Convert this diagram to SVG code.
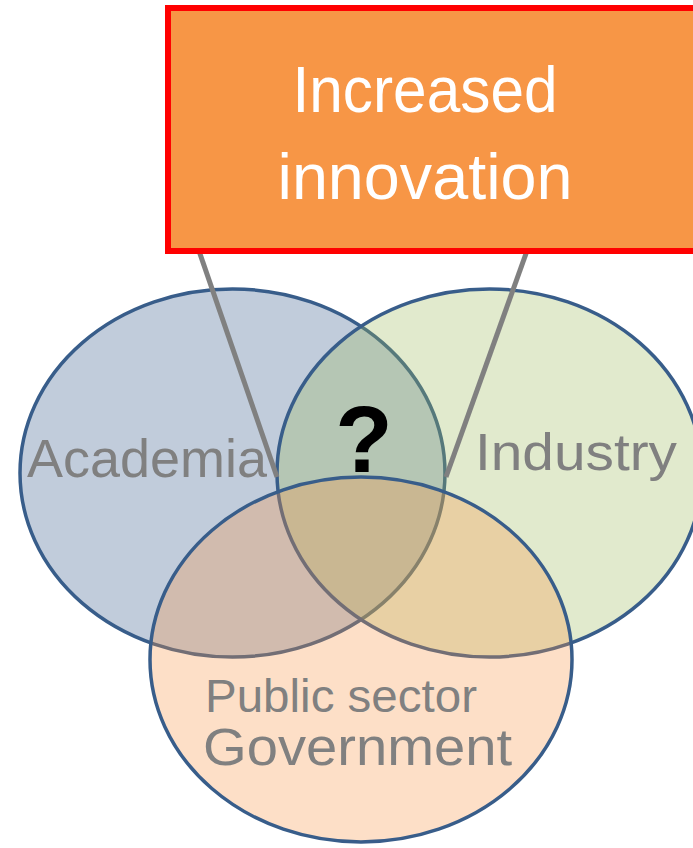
<svg xmlns="http://www.w3.org/2000/svg" width="693" height="848" viewBox="0 0 693 848">
<style>
.set{stroke:#385D8A;stroke-width:3.5}
.lbl{font-family:"Liberation Sans",Arial,sans-serif;fill:#808080}
.conn{stroke:#808080;stroke-width:5;stroke-linecap:butt;fill:none}
</style>
<rect width="693" height="848" fill="#FFFFFF"/>
<g id="academia">
<ellipse class="set" cx="232.5" cy="473" rx="212.5" ry="184" fill="#1F497D" fill-opacity="0.28"/>
</g>
<g id="industry">
<ellipse class="set" cx="489.5" cy="473" rx="212.5" ry="184" fill="#9BBB59" fill-opacity="0.3"/>
</g>
<g id="public-sector">
<ellipse class="set" cx="361" cy="659.5" rx="211" ry="182.5" fill="#F79646" fill-opacity="0.3"/>
</g>
<g id="connectors">
<line class="conn" x1="198" y1="248" x2="277" y2="477"/>
<line class="conn" x1="528" y1="248" x2="446" y2="477"/>
</g>
<g id="increased-innovation">
<rect x="168" y="8" width="540" height="243" fill="#F79646" stroke="#FF0000" stroke-width="6"/>
<text x="425" y="112" text-anchor="middle" font-family="Liberation Sans, Arial, sans-serif" font-size="64" fill="#FFFFFF" textLength="265" lengthAdjust="spacingAndGlyphs">Increased</text>
<text x="425" y="199" text-anchor="middle" font-family="Liberation Sans, Arial, sans-serif" font-size="64" fill="#FFFFFF" textLength="295" lengthAdjust="spacingAndGlyphs">innovation</text>
</g>
<g id="labels">
<text class="lbl" x="27" y="477" font-size="53" textLength="240" lengthAdjust="spacingAndGlyphs">Academia</text>
<text class="lbl" x="475" y="470" font-size="52" textLength="202" lengthAdjust="spacingAndGlyphs">Industry</text>
<text x="364" y="472" text-anchor="middle" font-family="Liberation Sans, Arial, sans-serif" font-weight="bold" font-size="94" fill="#000000">?</text>
<text class="lbl" x="205" y="712" font-size="47" textLength="272" lengthAdjust="spacingAndGlyphs">Public sector</text>
<text class="lbl" x="203" y="765" font-size="51" textLength="309" lengthAdjust="spacingAndGlyphs">Government</text>
</g>
</svg>
